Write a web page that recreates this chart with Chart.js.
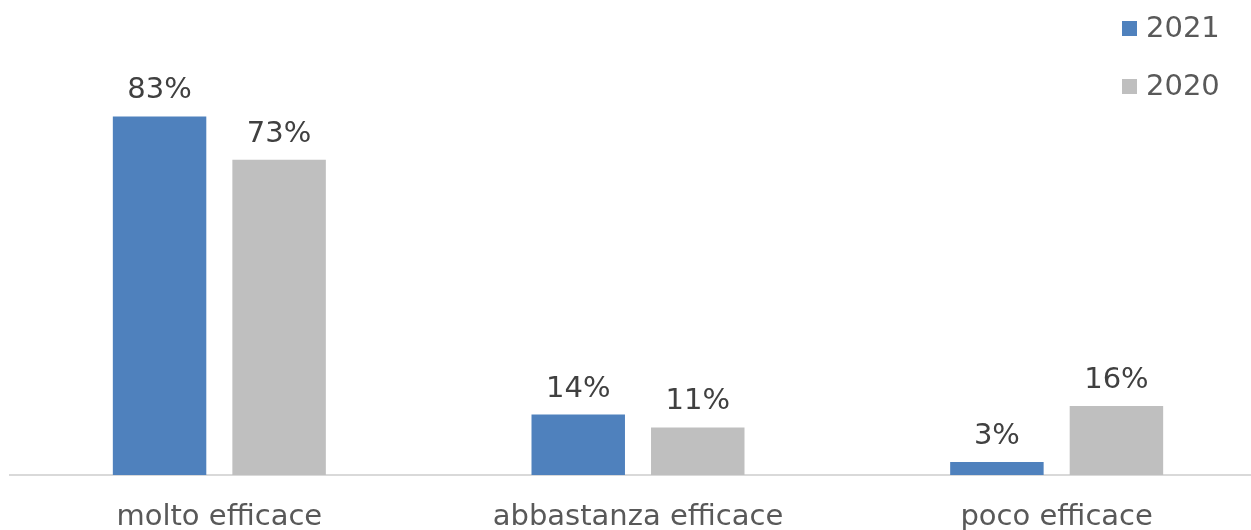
<!DOCTYPE html>
<html>
<head>
<meta charset="utf-8">
<script src="https://cdn.jsdelivr.net/npm/chart.js@4.4.0/dist/chart.umd.min.js"></script>
<style>
  html, body { margin: 0; padding: 0; background: #fff; overflow: hidden; }
  #wrap { width: 1266px; height: 530px; position: relative; }
</style>
</head>
<body>
<div id="wrap"><canvas id="myChart"></canvas></div>
<script>
const categories = ['molto efficace', 'abbastanza efficace', 'poco efficace'];
const values2021 = [83, 14, 3];
const values2020 = [73, 11, 16];
const seriesNames = ['2021', '2020'];

const FONT = '"DejaVu Sans", Verdana, sans-serif';

// value labels above each bar
const barLabels = {
    id: 'barLabels',
    afterDatasetsDraw(chart) {
        const ctx = chart.ctx;
        ctx.save();
        ctx.font = '29px ' + FONT;
        ctx.fillStyle = '#404040';
        ctx.textAlign = 'center';
        ctx.textBaseline = 'alphabetic';
        chart.data.datasets.forEach((ds, i) => {
            chart.getDatasetMeta(i).data.forEach((bar, j) => {
                ctx.fillText(ds.data[j] + '%', bar.x, bar.y - 18);
            });
        });
        ctx.restore();
    }
};

// legend in the top right corner, stacked
const sideLegend = {
    id: 'sideLegend',
    afterDraw(chart) {
        const ctx = chart.ctx;
        ctx.save();
        ctx.font = '29px ' + FONT;
        ctx.textBaseline = 'middle';
        chart.data.datasets.forEach((ds, i) => {
            const y = 28 + i * 58;
            ctx.fillStyle = ds.backgroundColor;
            ctx.fillRect(1122, y - 7, 15, 15);
            ctx.fillStyle = '#595959';
            ctx.fillText(ds.label, 1146, y + 1);
        });
        ctx.restore();
    }
};

new Chart(document.getElementById('myChart'), {
    type: 'bar',
    data: {
        labels: categories,
        datasets: [{
            label: seriesNames[0],
            data: values2021,
            backgroundColor: '#4F81BD'
        }, {
            label: seriesNames[1],
            data: values2020,
            backgroundColor: '#BFBFBF'
        }]
    },
    options: {
        responsive: true,
        maintainAspectRatio: false,
        animation: false,
        categoryPercentage: 0.571,
        barPercentage: 0.782,
        layout: {
            padding: { top: 43, left: 10, right: 0, bottom: 0 }
        },
        plugins: {
            legend: { display: false },
            tooltip: { enabled: false }
        },
        scales: {
            x: {
                grid: { display: false },
                border: { color: '#D9D9D9', width: 2 },
                ticks: {
                    color: '#595959',
                    font: { family: FONT, size: 29 },
                    padding: 17
                },
                afterFit(scale) { scale.height = 55; }
            },
            y: {
                display: false,
                min: 0,
                max: 100
            }
        }
    },
    plugins: [barLabels, sideLegend]
});
</script>
</body>
</html>
